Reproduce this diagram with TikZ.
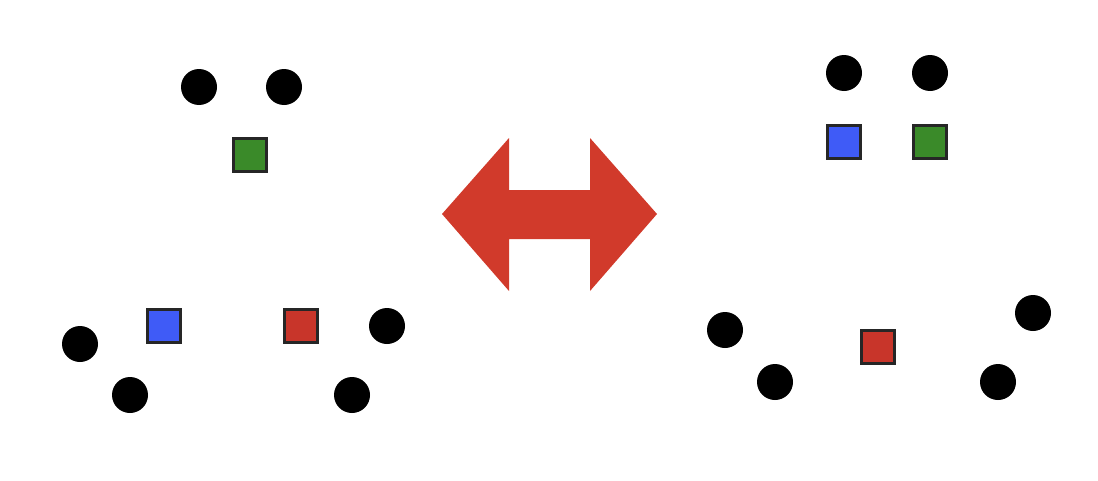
\documentclass[tikz,border=0pt]{standalone}
\usepackage{tikz}
\usetikzlibrary {arrows.meta}

\definecolor{arrowred}{HTML}{D13A2B}
\definecolor{boxred}{HTML}{C8352A}
\definecolor{boxblue}{HTML}{3F5BF7}
\definecolor{boxgreen}{HTML}{3A8A29}

\tikzset{
  dot/.style={circle,fill=black,inner sep=0pt,minimum size=36*0.02cm},
  box/.style={rectangle,draw=black!85,line width=1.2pt,inner sep=0pt,minimum size=33*0.02cm},
}

\begin{document}
\begin{tikzpicture}[x=0.02cm,y=-0.02cm]
\useasboundingbox (0,0) rectangle (1098,480);
% left group
\node[dot] (l1) at (199,87) {};
\node[dot] (l2) at (284,87) {};
\node[box,fill=boxgreen] (lg) at (250,155) {};
\node[box,fill=boxblue] (lb) at (164,326) {};
\node[box,fill=boxred] (lr) at (301,326) {};
\node[dot] (l3) at (80,344) {};
\node[dot] (l4) at (130,395) {};
\node[dot] (l5) at (387,326) {};
\node[dot] (l6) at (352,395) {};
% double arrow
\fill[arrowred] (442,214) -- (509,138) -- (509,190) -- (590,190) -- (590,138)
  -- (657,214) -- (590,291) -- (590,239) -- (509,239) -- (509,291) -- cycle;
% right group
\node[dot] (r1) at (844,73) {};
\node[dot] (r2) at (930,73) {};
\node[box,fill=boxblue] (rb) at (844,142) {};
\node[box,fill=boxgreen] (rg) at (930,142) {};
\node[box,fill=boxred] (rr) at (878,347) {};
\node[dot] (r3) at (725,330) {};
\node[dot] (r4) at (775,382) {};
\node[dot] (r5) at (1033,313) {};
\node[dot] (r6) at (998,382) {};
\end{tikzpicture}
\end{document}
